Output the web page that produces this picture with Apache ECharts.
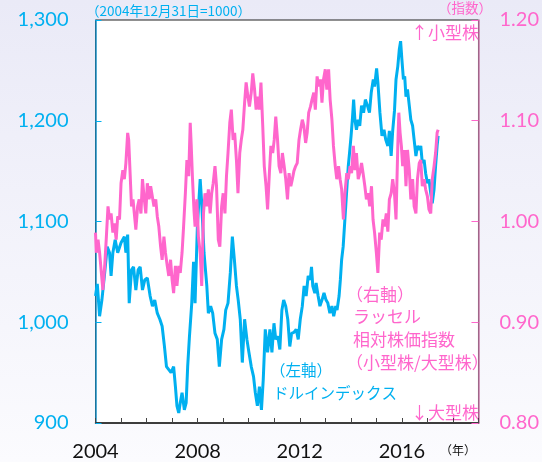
<!DOCTYPE html>
<html>
<head>
<meta charset="utf-8">
<script src="https://cdn.jsdelivr.net/npm/echarts@6/dist/echarts.min.js"></script>
<style>
  html, body { margin: 0; padding: 0; }
  #chart { width: 542px; height: 462px; }
</style>
</head>
<body>
<div id="chart"></div>
<script>
// dollar index (left axis, 2004/12/31 = 1000)
const dollarT = [
  2004.00, 2004.07, 2004.16, 2004.25, 2004.36, 2004.46, 2004.55, 2004.61, 2004.68, 2004.77,
  2004.87, 2005.00, 2005.13, 2005.19, 2005.26, 2005.32, 2005.41, 2005.49, 2005.58, 2005.67,
  2005.75, 2005.84, 2005.93, 2006.03, 2006.14, 2006.23, 2006.32, 2006.42, 2006.52, 2006.61,
  2006.70, 2006.78, 2006.87, 2006.96, 2007.06, 2007.13, 2007.19, 2007.26, 2007.32, 2007.39,
  2007.48, 2007.55, 2007.61, 2007.68, 2007.77, 2007.84, 2007.90, 2007.99, 2008.10, 2008.16,
  2008.25, 2008.36, 2008.42, 2008.51, 2008.59, 2008.68, 2008.77, 2008.85, 2008.94, 2009.03,
  2009.10, 2009.19, 2009.28, 2009.36, 2009.44, 2009.52, 2009.59, 2009.67, 2009.75, 2009.84,
  2009.93, 2010.01, 2010.10, 2010.19, 2010.26, 2010.34, 2010.42, 2010.50, 2010.57, 2010.65,
  2010.74, 2010.83, 2010.91, 2010.99, 2011.06, 2011.14, 2011.22, 2011.30, 2011.37, 2011.45,
  2011.53, 2011.61, 2011.68, 2011.77, 2011.86, 2011.94, 2012.02, 2012.10, 2012.17, 2012.25,
  2012.33, 2012.41, 2012.46, 2012.51, 2012.59, 2012.64, 2012.72, 2012.79, 2012.87, 2012.95,
  2013.03, 2013.10, 2013.18, 2013.26, 2013.33, 2013.41, 2013.46, 2013.54, 2013.59, 2013.64,
  2013.70, 2013.75, 2013.80, 2013.85, 2013.90, 2013.95, 2014.01, 2014.06, 2014.11, 2014.16,
  2014.22, 2014.29, 2014.35, 2014.42, 2014.50, 2014.57, 2014.65, 2014.73, 2014.80, 2014.88,
  2014.93, 2015.01, 2015.06, 2015.14, 2015.22, 2015.30, 2015.37, 2015.45, 2015.51, 2015.58,
  2015.64, 2015.71, 2015.77, 2015.84, 2015.90, 2015.95, 2016.00, 2016.06, 2016.11, 2016.16,
  2016.22, 2016.29, 2016.35, 2016.42, 2016.48, 2016.55, 2016.61, 2016.68, 2016.74, 2016.80,
  2016.87, 2016.93, 2017.00, 2017.06, 2017.13, 2017.19, 2017.26, 2017.32, 2017.38, 2017.42
];
const dollarV = [
  1026, 1038, 1006, 1022, 1049, 1075, 1069, 1046, 1069, 1082,
  1069, 1079, 1085, 1069, 1087, 1019, 1052, 1055, 1032, 1052,
  1055, 1032, 1042, 1044, 1026, 1016, 1022, 1009, 1003, 996,
  976, 956, 953, 950, 956, 936, 917, 910, 920, 930,
  913, 920, 956, 986, 1019, 1060, 1019, 1095, 1142, 1118,
  1069, 1036, 1009, 1016, 1009, 989, 983, 956, 983, 993,
  1012, 1019, 1049, 1085, 1062, 1036, 1022, 1003, 960, 1003,
  983, 970, 956, 946, 930, 917, 936, 913, 943, 993,
  970, 993, 970, 999, 983, 986, 973, 1012, 1022, 1016,
  1003, 976, 989, 990, 993, 983, 1003, 1016, 1036, 1026,
  1046, 1042, 1055, 1036, 1029, 1039, 1026, 1016, 1022, 1029,
  1022, 1019, 1009, 1016, 1006, 1016, 1012, 1026, 1042, 1062,
  1075, 1095, 1115, 1135, 1155, 1168, 1185, 1201, 1221, 1201,
  1191, 1201, 1195, 1215, 1208, 1221, 1215, 1208, 1228, 1241,
  1234, 1252, 1238, 1208, 1185, 1191, 1181, 1175, 1190, 1165,
  1190, 1210, 1241, 1254, 1271, 1279, 1261, 1241, 1244, 1224,
  1231, 1215, 1201, 1195, 1181, 1165, 1175, 1171, 1175, 1158,
  1161, 1148, 1138, 1142, 1128, 1118, 1132, 1155, 1175, 1185
];

// Russell relative index, small cap / large cap (right axis)
const russellT = [
  2004.00, 2004.03, 2004.10, 2004.16, 2004.23, 2004.29, 2004.36, 2004.42, 2004.49, 2004.55,
  2004.61, 2004.68, 2004.74, 2004.81, 2004.87, 2004.94, 2005.00, 2005.07, 2005.13, 2005.19,
  2005.26, 2005.30, 2005.36, 2005.41, 2005.47, 2005.52, 2005.58, 2005.65, 2005.71, 2005.78,
  2005.84, 2005.90, 2005.97, 2006.03, 2006.10, 2006.16, 2006.23, 2006.29, 2006.36, 2006.42,
  2006.48, 2006.55, 2006.61, 2006.68, 2006.74, 2006.81, 2006.87, 2006.94, 2007.00, 2007.06,
  2007.13, 2007.19, 2007.26, 2007.32, 2007.39, 2007.45, 2007.52, 2007.58, 2007.65, 2007.71,
  2007.75, 2007.80, 2007.86, 2007.90, 2007.97, 2008.03, 2008.10, 2008.16, 2008.23, 2008.29,
  2008.36, 2008.42, 2008.49, 2008.55, 2008.61, 2008.68, 2008.74, 2008.81, 2008.87, 2008.94,
  2009.00, 2009.07, 2009.13, 2009.19, 2009.26, 2009.32, 2009.39, 2009.45, 2009.52, 2009.58,
  2009.65, 2009.71, 2009.77, 2009.84, 2009.90, 2009.97, 2010.03, 2010.10, 2010.16, 2010.23,
  2010.29, 2010.35, 2010.42, 2010.48, 2010.55, 2010.61, 2010.68, 2010.74, 2010.81, 2010.87,
  2010.94, 2011.00, 2011.06, 2011.13, 2011.19, 2011.26, 2011.32, 2011.39, 2011.45, 2011.52,
  2011.58, 2011.65, 2011.71, 2011.77, 2011.84, 2011.90, 2011.97, 2012.03, 2012.10, 2012.16,
  2012.23, 2012.29, 2012.35, 2012.42, 2012.48, 2012.55, 2012.61, 2012.68, 2012.74, 2012.81,
  2012.87, 2012.93, 2013.00, 2013.06, 2013.13, 2013.19, 2013.26, 2013.32, 2013.39, 2013.45,
  2013.52, 2013.58, 2013.64, 2013.71, 2013.77, 2013.84, 2013.90, 2013.97, 2014.03, 2014.10,
  2014.16, 2014.22, 2014.29, 2014.35, 2014.42, 2014.48, 2014.55, 2014.61, 2014.68, 2014.74,
  2014.81, 2014.87, 2014.93, 2015.00, 2015.06, 2015.13, 2015.19, 2015.26, 2015.32, 2015.39,
  2015.45, 2015.51, 2015.58, 2015.64, 2015.71, 2015.77, 2015.84, 2015.88, 2015.93, 2015.98,
  2016.03, 2016.10, 2016.16, 2016.22, 2016.29, 2016.35, 2016.42, 2016.48, 2016.55, 2016.61,
  2016.68, 2016.74, 2016.80, 2016.87, 2016.93, 2017.00, 2017.06, 2017.13, 2017.19, 2017.26,
  2017.32, 2017.38, 2017.42
];
const russellV = [
  0.989, 0.969, 0.982, 0.969, 0.949, 0.932, 0.956, 0.982, 1.015, 1.002,
  1.008, 0.989, 0.998, 0.982, 1.005, 1.002, 1.038, 1.051, 1.042, 1.058,
  1.088, 1.081, 1.045, 1.015, 1.022, 1.008, 0.992, 1.015, 1.022, 1.008,
  1.042, 1.025, 1.008, 1.038, 1.022, 1.035, 1.035, 1.015, 1.022, 1.005,
  0.995, 0.975, 0.962, 0.985, 0.969, 0.956, 0.946, 0.962, 0.942, 0.929,
  0.956, 0.936, 0.956, 0.949, 0.969, 0.995, 1.028, 1.061, 1.045, 1.098,
  1.075, 1.042, 1.010, 0.995, 1.022, 0.985, 0.969, 0.936, 1.008, 1.028,
  1.015, 1.032, 1.008, 1.028, 1.038, 1.055, 1.035, 0.982, 0.975, 1.015,
  1.028, 1.008, 1.045, 1.068, 1.098, 1.111, 1.081, 1.088, 1.061, 1.028,
  1.068, 1.081, 1.091, 1.118, 1.138, 1.124, 1.114, 1.128, 1.147, 1.131,
  1.111, 1.124, 1.111, 1.138, 1.095, 1.055, 1.035, 1.012, 1.048, 1.075,
  1.068, 1.081, 1.104, 1.081, 1.055, 1.048, 1.068, 1.055, 1.042, 1.022,
  1.048, 1.035, 1.042, 1.050, 1.055, 1.058, 1.081, 1.091, 1.101, 1.095,
  1.078, 1.088, 1.108, 1.114, 1.121, 1.128, 1.111, 1.144, 1.134, 1.141,
  1.118, 1.141, 1.151, 1.131, 1.151, 1.121, 1.101, 1.075, 1.055, 1.042,
  1.055, 1.042, 1.032, 1.002, 1.028, 1.048, 1.042, 1.055, 1.048, 1.075,
  1.051, 1.068, 1.042, 1.048, 1.058, 1.048, 1.035, 1.022, 1.028, 1.015,
  1.035, 1.002, 0.989, 0.969, 0.949, 0.989, 0.982, 1.002, 0.995, 1.008,
  0.990, 1.022, 1.028, 1.042, 1.028, 1.002, 1.075, 1.108, 1.088, 1.075,
  1.055, 1.071, 1.035, 1.071, 1.051, 1.022, 1.042, 1.015, 1.008, 1.042,
  1.058, 1.061, 1.035, 1.042, 1.032, 1.025, 1.012, 1.008, 1.042, 1.055,
  1.068, 1.088, 1.091
];

const yearLabels = [2004, 2008, 2012, 2016];
const leftTicks = { min: 900, max: 1300, step: 100 };
const rightTicks = { min: 0.8, max: 1.2, step: 0.1 };

const CYAN = "#00b0f0";
const PINK = "#ff66cc";
const JP = "'Noto Sans CJK JP', sans-serif";
const NUM = "Lato, 'Noto Sans', sans-serif";

function pairs(ts, vs) {
  return ts.map((t, i) => [t, vs[i]]);
}

function label(text, x, y, color, size, align) {
  return {
    type: "text",
    x: x,
    y: y,
    silent: true,
    style: {
      text: text,
      fill: color,
      font: size + "px " + JP,
      align: align || "left",
      verticalAlign: "middle",
    },
  };
}

const chart = echarts.init(document.getElementById("chart"));

const option = {
  animation: false,
  backgroundColor: {
    type: "linear",
    x: 0, y: 0, x2: 0, y2: 1,
    colorStops: [
      { offset: 0, color: "#eaeaf7" },
      { offset: 1, color: "#fbfbfe" },
    ],
  },
  grid: {
    left: 95.5,
    right: 60,
    top: 20,
    bottom: 39,
    show: true,
    backgroundColor: "#ffffff",
    borderColor: "#222",
    borderWidth: 1,
  },
  xAxis: {
    type: "value",
    min: 2004,
    max: 2019,
    interval: 1,
    axisLine: { lineStyle: { color: "#222", width: 1.5 } },
    axisTick: { inside: true, length: 5, lineStyle: { color: "#444" } },
    splitLine: { show: false },
    axisLabel: {
      color: "#111",
      fontFamily: NUM,
      fontSize: 20,
      margin: 19,
      formatter: (v) => (yearLabels.indexOf(v) >= 0 ? String(v) : ""),
    },
  },
  yAxis: [
    {
      type: "value",
      position: "left",
      min: leftTicks.min,
      max: leftTicks.max,
      interval: leftTicks.step,
      axisLine: { show: true, lineStyle: { color: "#1a8fc4", width: 1.5 } },
      axisTick: { show: true, inside: true, length: 6, lineStyle: { color: CYAN } },
      splitLine: { show: false },
      axisLabel: {
        color: CYAN,
        fontFamily: NUM,
        fontSize: 20,
        margin: 27,
        formatter: (v) => v.toLocaleString("en-US"),
      },
    },
    {
      type: "value",
      position: "right",
      min: rightTicks.min,
      max: rightTicks.max,
      interval: rightTicks.step,
      axisLine: { show: true, lineStyle: { color: "#c77aa8", width: 1.5 } },
      axisTick: { show: true, inside: true, length: 7, lineStyle: { color: PINK } },
      splitLine: { show: false },
      axisLabel: {
        color: PINK,
        fontFamily: NUM,
        fontSize: 20,
        margin: 21,
        formatter: (v) => v.toFixed(2),
      },
    },
  ],
  series: [
    {
      name: "ドルインデックス",
      type: "line",
      yAxisIndex: 0,
      data: pairs(dollarT, dollarV),
      showSymbol: false,
      lineStyle: { color: CYAN, width: 3 },
      z: 2,
    },
    {
      name: "ラッセル相対株価指数",
      type: "line",
      yAxisIndex: 1,
      data: pairs(russellT, russellV),
      showSymbol: false,
      lineStyle: { color: PINK, width: 3 },
      z: 3,
    },
  ],
  graphic: [
    label("（2004年12月31日=1000）", 86, 11, CYAN, 13.5),
    label("（指数）", 492, 8, PINK, 13.5, "right"),
    label("↑小型株", 479, 33, PINK, 17, "right"),
    label("↓大型株", 479, 413, PINK, 17, "right"),
    label("（右軸）", 346, 295, PINK, 17),
    label("ラッセル", 353, 317, PINK, 17),
    label("相対株価指数", 353, 340, PINK, 17),
    label("（小型株/大型株）", 346, 363, PINK, 17),
    label("（左軸）", 270, 370, CYAN, 15.5),
    label("ドルインデックス", 273, 393, CYAN, 15.5),
    label("（年）", 440, 450, "#111", 12),
  ],
};

chart.setOption(option);
</script>
</body>
</html>
